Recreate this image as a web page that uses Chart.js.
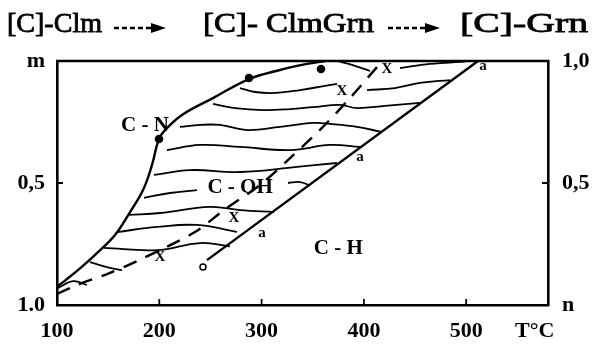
<!DOCTYPE html>
<html><head><meta charset="utf-8">
<script src="https://cdn.jsdelivr.net/npm/chart.js@4/dist/chart.umd.min.js"></script>
<style>html,body{margin:0;padding:0;background:#fff;}</style>
</head><body>
<canvas id="c" width="595" height="345" style="width:595px;height:345px;display:block"></canvas>
<script>
// ---- axis ticks ----
const xTickValues = [100, 200, 300, 400, 500, 567];
const xTickLabels = ['100', '200', '300', '400', '500', 'T°C'];
const yTickValues = [0, 0.5, 1];
const yLeftLabels = ['1.0', '0,5', 'm'];
const yRightLabels = ['n', '0,5', '1,0'];
const xInnerTicks = [200, 300, 400, 500];
const yInnerTicks = [0.5];

// ---- boundaries ----
const cnX = [100, 107.8, 122.5, 140.1, 156.7, 171.4, 184.1, 192.9, 199.7, 207.5, 222.2, 252.5, 287.7, 318.0, 344.4, 362.0];
const cnY = [0.075, 0.100, 0.150, 0.217, 0.287, 0.381, 0.471, 0.574, 0.680, 0.725, 0.779, 0.848, 0.926, 0.963, 0.988, 1.0];
const chX = [246.6, 511.6];
const chY = [0.184, 1.0];
const dashX = [100, 119.6, 148.9, 178.2, 234.9, 263.3, 298.5, 327.8, 360.0, 386.4, 412.8];
const dashY = [0.045, 0.082, 0.127, 0.180, 0.299, 0.389, 0.492, 0.602, 0.730, 0.848, 0.975];

// ---- hatch (iso) lines ----
const h1aX = [373.7, 388.4, 406.0];               const h1aY = [1.0, 0.984, 0.959];
const h1bX = [435.3, 464.6, 498.9];               const h1bY = [0.971, 0.988, 0.998];
const h2aX = [278.9, 293.6, 313.1, 337.6, 362.0, 373.7]; const h2aY = [0.889, 0.873, 0.869, 0.881, 0.898, 0.906];
const h2bX = [403.1, 430.4, 454.9, 484.2];        const h2bY = [0.881, 0.889, 0.910, 0.922];
const h3X = [252.5, 274.0, 301.4, 327.8, 350.3, 376.7, 393.3, 420.7, 454.9];
const h3Y = [0.824, 0.807, 0.799, 0.803, 0.811, 0.820, 0.807, 0.816, 0.828];
const h4X = [220.2, 239.8, 259.3, 285.7, 318.0, 350.3, 366.9, 393.3, 417.7];
const h4Y = [0.730, 0.738, 0.738, 0.717, 0.730, 0.746, 0.742, 0.730, 0.709];
const h5X = [207.5, 239.8, 278.9, 327.8, 366.9, 396.2]; const h5Y = [0.635, 0.656, 0.648, 0.635, 0.656, 0.648];
const h6X = [194.8, 230.0, 278.9, 334.6, 373.7];  const h6Y = [0.533, 0.553, 0.545, 0.566, 0.582];
const h7aX = [185.1, 210.5, 236.9];               const h7aY = [0.439, 0.459, 0.471];
const h7bX = [325.8, 337.6, 347.3];               const h7bY = [0.500, 0.504, 0.490];
const h8X = [170.4, 200.7, 249.6, 278.9, 312.1];  const h8Y = [0.369, 0.377, 0.402, 0.389, 0.381];
const h9X = [158.7, 197.8, 236.9, 276.0];         const h9Y = [0.299, 0.320, 0.328, 0.300];
const h10X = [145.9, 197.8, 239.8, 269.1];        const h10Y = [0.234, 0.225, 0.254, 0.240];
const h11X = [132.3, 151.8, 163.5];               const h11Y = [0.176, 0.152, 0.143];
const h12X = [101.0, 115.6, 129.3];               const h12Y = [0.070, 0.098, 0.082];

// ---- markers ----
const dotX = [199.7, 287.7, 358.1];          const dotY = [0.680, 0.930, 0.967];
const crossX = [422.6, 378.6, 273.0, 200.7]; const crossY = [0.967, 0.877, 0.357, 0.197];
const aX = [516.5, 396.2, 300.4];            const aY = [0.980, 0.607, 0.295];
const ringX = [242.7];                       const ringY = [0.156];

// ---- text ----
const regionLabels = ['C - N', 'C - OH', 'C - H'];
const regionX = [186, 279, 375];
const regionY = [0.734, 0.480, 0.230];
const headerTexts = ['[C]-Clm', '[C]- ClmGrn', '[C]-Grn'];

const SERIF = '"Liberation Serif", "Times New Roman", serif';
function pts(xs, ys) { return xs.map((x, i) => ({ x: x, y: ys[i] })); }
function glyph(ch, size) {
  const c = document.createElement('canvas');
  c.width = 14; c.height = 16;
  const g = c.getContext('2d');
  g.font = 'bold ' + size + 'px ' + SERIF;
  g.textAlign = 'center'; g.textBaseline = 'middle';
  g.fillStyle = '#000';
  g.fillText(ch, 7, 8);
  return c;
}
function line(xs, ys, w, dash, tension) {
  return { type: 'line', data: pts(xs, ys), borderColor: '#000', borderWidth: w,
    borderDash: dash || [], tension: tension === undefined ? 0.4 : tension,
    pointRadius: 0, fill: false, clip: false };
}
function marks(xs, ys, style, r, filled) {
  return { type: 'scatter', data: pts(xs, ys), pointStyle: style, pointRadius: r,
    pointBackgroundColor: filled ? '#000' : '#fff', pointBorderColor: '#000',
    pointBorderWidth: 1.5, showLine: false, clip: false };
}

const hatch = [[h1aX,h1aY],[h1bX,h1bY],[h2aX,h2aY],[h2bX,h2bY],[h3X,h3Y],[h4X,h4Y],[h5X,h5Y],
  [h6X,h6Y],[h7aX,h7aY],[h7bX,h7bY],[h8X,h8Y],[h9X,h9Y],[h10X,h10Y],[h11X,h11Y],[h12X,h12Y]];

const datasets = [
  line(cnX, cnY, 2.4),
  line(chX, chY, 2.4, null, 0),
  line(dashX, dashY, 2.4, [14, 10], 0.3),
  ...hatch.map(h => line(h[0], h[1], 1.8)),
  marks(dotX, dotY, 'circle', 3.5, true),
  marks(ringX, ringY, 'circle', 3, false),
  marks(crossX, crossY, glyph('X', 15), 7, true),
  marks(aX, aY, glyph('a', 15), 7, true)
];

const decor = {
  id: 'decor',
  afterDraw(chart) {
    const ctx = chart.ctx, a = chart.chartArea, x = chart.scales.x, y = chart.scales.y;
    ctx.save();
    ctx.strokeStyle = '#000'; ctx.fillStyle = '#000';
    ctx.lineWidth = 2.6;
    ctx.beginPath(); ctx.moveTo(a.left - 1, a.top); ctx.lineTo(a.right + 1, a.top); ctx.stroke();
    ctx.lineWidth = 1.8;
    xInnerTicks.forEach(v => { const px = x.getPixelForValue(v);
      ctx.beginPath(); ctx.moveTo(px, a.bottom); ctx.lineTo(px, a.bottom - 6); ctx.stroke(); });
    yInnerTicks.forEach(v => { const py = y.getPixelForValue(v);
      ctx.beginPath(); ctx.moveTo(a.left, py); ctx.lineTo(a.left + 6, py);
      ctx.moveTo(a.right, py); ctx.lineTo(a.right - 6, py); ctx.stroke(); });
    // region labels
    ctx.font = 'bold 21px ' + SERIF; ctx.textAlign = 'center'; ctx.textBaseline = 'middle';
    regionLabels.forEach((t, i) => ctx.fillText(t, x.getPixelForValue(regionX[i]), y.getPixelForValue(regionY[i])));
    // header
    const boxes = [[7, 102], [203, 374], [460, 588]];
    ctx.font = '27px ' + SERIF; ctx.textAlign = 'left'; ctx.textBaseline = 'middle';
    headerTexts.forEach((t, i) => {
      const w = ctx.measureText(t).width, s = (boxes[i][1] - boxes[i][0]) / w;
      ctx.save(); ctx.translate(boxes[i][0], 25); ctx.scale(s, 1);
      ctx.lineWidth = 0.8; ctx.strokeText(t, 0, 0); ctx.fillText(t, 0, 0); ctx.restore();
    });
    const arrows = [[114, 166], [388, 440]];
    arrows.forEach(r => {
      const ay = 28;
      ctx.save(); ctx.lineWidth = 2.5; ctx.setLineDash([5, 3]);
      ctx.beginPath(); ctx.moveTo(r[0], ay); ctx.lineTo(r[1] - 12, ay); ctx.stroke(); ctx.restore();
      ctx.beginPath(); ctx.moveTo(r[1] - 15, ay - 5); ctx.lineTo(r[1], ay); ctx.lineTo(r[1] - 15, ay + 5); ctx.closePath(); ctx.fill();
    });
    ctx.restore();
  }
};

const tickFont = { family: SERIF, size: 22, weight: 'bold' };
const axisBorder = { display: true, color: '#000', width: 2.6 };

new Chart(document.getElementById('c'), {
  data: { datasets: datasets },
  options: {
    responsive: false, animation: false, devicePixelRatio: 1,
    layout: { padding: { top: 61, left: 0, right: 0, bottom: 0 } },
    plugins: { legend: { display: false }, tooltip: { enabled: false }, title: { display: false } },
    scales: {
      x: { type: 'linear', position: 'bottom', min: 100, max: 580,
        grid: { display: false, drawTicks: false }, border: axisBorder,
        afterBuildTicks: s => { s.ticks = xTickValues.map(v => ({ value: v })); },
        afterFit: s => { s.height = 40; },
        ticks: { autoSkip: false, maxRotation: 0, padding: 13, color: '#000', font: tickFont,
          callback: v => xTickLabels[xTickValues.indexOf(v)] } },
      y: { type: 'linear', position: 'left', min: 0, max: 1,
        grid: { display: false, drawTicks: false }, border: axisBorder,
        afterBuildTicks: s => { s.ticks = yTickValues.map(v => ({ value: v })); },
        afterFit: s => { s.width = 57; },
        ticks: { padding: 12, color: '#000', font: tickFont,
          callback: v => yLeftLabels[yTickValues.indexOf(v)] } },
      y2: { type: 'linear', position: 'right', min: 0, max: 1,
        grid: { display: false, drawTicks: false }, border: axisBorder,
        afterBuildTicks: s => { s.ticks = yTickValues.map(v => ({ value: v })); },
        afterFit: s => { s.width = 47; },
        ticks: { padding: 14, color: '#000', font: tickFont,
          callback: v => yRightLabels[yTickValues.indexOf(v)] } }
    }
  },
  plugins: [decor]
});
</script>
</body></html>
